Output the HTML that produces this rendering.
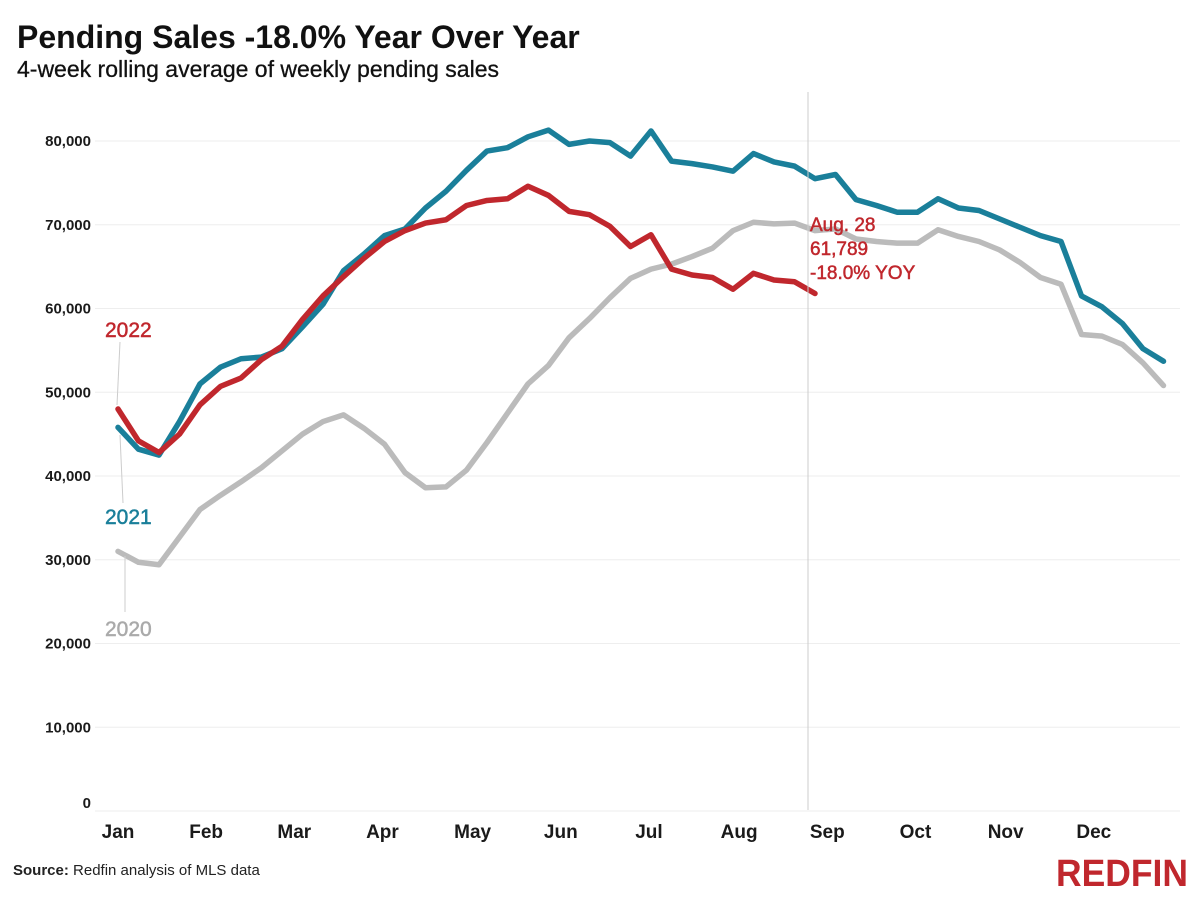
<!DOCTYPE html>
<html><head><meta charset="utf-8"><style>
body{margin:0;background:#fff;width:1200px;height:900px;overflow:hidden;font-family:"Liberation Sans",sans-serif}
</style></head><body>
<svg width="1200" height="900" xmlns="http://www.w3.org/2000/svg">
<text x="17" y="48" font-size="32" font-weight="bold" fill="#111">Pending Sales -18.0% Year Over Year</text>
<text x="17" y="77" font-size="23" fill="#111" stroke="#111" stroke-width="0.3">4-week rolling average of weekly pending sales</text>
<g id="grid"></g><g id="lines"></g>
<line x1="808" y1="92" x2="808" y2="810" stroke="#ccc" stroke-width="1"/>
<g font-size="19" fill="#c0272d" stroke="#c0272d" stroke-width="0.5">
<text x="810" y="231">Aug. 28</text>
<text x="810" y="255">61,789</text>
<text x="810" y="279">-18.0% YOY</text>
</g>
<line x1="120" y1="342" x2="117" y2="405" stroke="#ccc"/>
<text x="105" y="337" font-size="21" fill="#c0272d" stroke="#c0272d" stroke-width="0.5">2022</text>
<line x1="120" y1="435" x2="123" y2="503" stroke="#ccc"/>
<text x="105" y="524" font-size="21" fill="#1a7f9a" stroke="#1a7f9a" stroke-width="0.5">2021</text>
<line x1="125" y1="556" x2="125" y2="612" stroke="#ccc"/>
<text x="105" y="636" font-size="21" fill="#aaa" stroke="#aaa" stroke-width="0.5">2020</text>
<text x="13" y="875" font-size="15" fill="#222"><tspan font-weight="bold">Source:</tspan> Redfin analysis of MLS data</text>
<text x="1188" y="886" font-size="38" font-weight="bold" fill="#c0272d" text-anchor="end" textLength="132" lengthAdjust="spacingAndGlyphs">REDFIN</text>
</svg>
<script>
const yTicks=[0,10000,20000,30000,40000,50000,60000,70000,80000];
const months=["Jan","Feb","Mar","Apr","May","Jun","Jul","Aug","Sep","Oct","Nov","Dec"];
const monthWeek=[0,4.3,8.6,12.9,17.3,21.6,25.9,30.3,34.6,38.9,43.3,47.6];
const s2020=[31000,29700,29400,32700,36000,37700,39300,41000,43000,45000,46500,47300,45700,43800,40400,38600,38700,40700,44000,47500,51000,53200,56500,58800,61300,63600,64700,65300,66200,67200,69300,70300,70100,70200,69300,69500,68300,68000,67800,67800,69400,68600,68000,67000,65500,63700,62900,56900,56700,55700,53500,50800];
const s2021=[45800,43200,42500,46500,51000,53000,54000,54200,55200,57800,60500,64500,66500,68700,69500,72000,74000,76500,78800,79200,80500,81300,79600,80000,79800,78200,81200,77600,77300,76900,76400,78500,77500,77000,75500,76000,73000,72300,71500,71500,73100,72000,71700,70700,69700,68700,68000,61500,60200,58200,55200,53700];
const s2022=[48000,44200,42800,45000,48500,50700,51700,53900,55500,58700,61500,63800,66000,68000,69300,70200,70600,72300,72900,73100,74600,73500,71600,71200,69800,67400,68800,64700,64000,63700,62300,64200,63400,63200,61789];
const x=i=>118+i*20.5, y=v=>811-v*(670/80000);
const NS="http://www.w3.org/2000/svg";
const grid=document.getElementById('grid'), lines=document.getElementById('lines');
yTicks.forEach(t=>{
  const l=document.createElementNS(NS,'line');
  l.setAttribute('x1',95);l.setAttribute('x2',1180);l.setAttribute('y1',y(t));l.setAttribute('y2',y(t));
  l.setAttribute('stroke','#eee');
  
  
  grid.appendChild(l);
  const tx=document.createElementNS(NS,'text');
  tx.setAttribute('x',91);tx.setAttribute('y',y(t)+(t===0?-3:5));tx.setAttribute('text-anchor','end');
  tx.setAttribute('font-size','15');tx.setAttribute('font-weight','bold');tx.setAttribute('fill','#1a1a1a');
  tx.textContent=t.toLocaleString('en-US');
  
  
  grid.appendChild(tx);
});
months.forEach((m,i)=>{
  const tx=document.createElementNS(NS,'text');
  tx.setAttribute('x',x(monthWeek[i]));tx.setAttribute('y',838);tx.setAttribute('text-anchor','middle');
  tx.setAttribute('font-size','19');tx.setAttribute('font-weight','bold');tx.setAttribute('fill','#1a1a1a');
  tx.textContent=m;
  
  
  grid.appendChild(tx);
});
[[s2020,'#bbbbbb','line-2020'],[s2021,'#1a7f9a','line-2021'],[s2022,'#c0272d','line-2022']].forEach(([d,c,n])=>{
  const p=document.createElementNS(NS,'polyline');
  p.setAttribute('points',d.map((v,i)=>x(i)+','+y(v)).join(' '));
  p.setAttribute('fill','none');p.setAttribute('stroke',c);p.setAttribute('stroke-width','5.5');
  p.setAttribute('stroke-linejoin','round');p.setAttribute('stroke-linecap','round');
  
  
  lines.appendChild(p);
});
</script>
</body></html>
